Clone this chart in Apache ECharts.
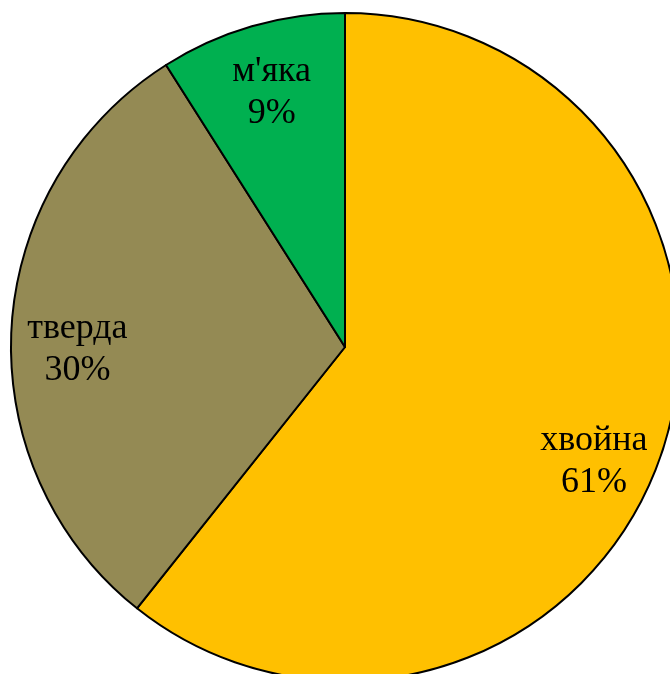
<!DOCTYPE html>
<html>
<head>
<meta charset="utf-8">
<title>pie</title>
<script src="https://cdn.jsdelivr.net/npm/echarts@6/dist/echarts.min.js"></script>
<style>
	*{
		margin: 0;
		padding: 0;
	}
	#chart{
		width: 670px;
		height: 674px;
		background: #fff;
	}
</style>
</head>
<body>
<div id="chart"></div>
<script>
// дані
var names = ['хвойна', 'тверда', "м'яка"];
var values = [60.7, 30.3, 9.0];
var colors = ['#FFC000', '#948A54', '#00B050'];
// зсув підписів (як в Excel)
var labelShift = [[-6, 25], [2, 17], [2, 5]];

var pieData = [];
var labelData = [];
for (var i = 0; i < names.length; i++) {
	pieData.push({value: values[i], name: names[i], itemStyle: {color: colors[i]}});
	labelData.push({value: values[i], name: names[i], label: {offset: labelShift[i]}});
}

var myChart = echarts.init(document.getElementById('chart'));
var option = {
	backgroundColor: '#fff',
	animation: false,
	series: [
		{
			type: 'pie',
			center: [345, 347],
			radius: [0, 334],
			startAngle: 90,
			clockwise: true,
			data: pieData,
			label: {show: false},
			labelLine: {show: false},
			itemStyle: {
				borderColor: '#000',
				borderWidth: 2
			}
		},
		// прозоре кільце лише для підписів
		{
			type: 'pie',
			center: [345, 347],
			radius: [200, 334],
			startAngle: 90,
			clockwise: true,
			silent: true,
			percentPrecision: 0,
			data: labelData,
			itemStyle: {
				color: 'rgba(0,0,0,0)',
				borderWidth: 0
			},
			label: {
				show: true,
				position: 'inside',
				formatter: '{b}\n{d}%',
				fontFamily: 'Liberation Serif',
				fontSize: 36,
				lineHeight: 42,
				color: '#000'
			},
			labelLine: {show: false}
		}
	]
};
myChart.setOption(option);
</script>
</body>
</html>
